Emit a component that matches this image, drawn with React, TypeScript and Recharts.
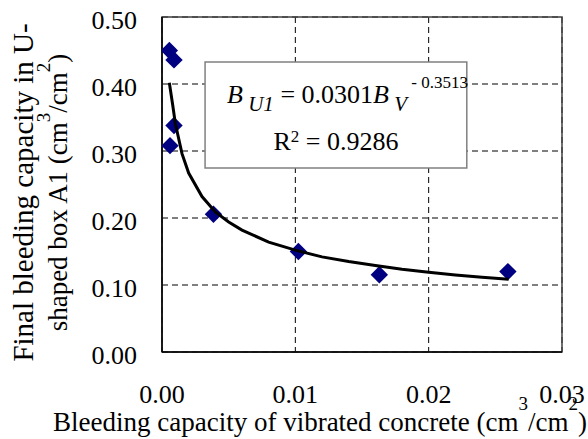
import React from 'react';
import { ScatterChart, Scatter, XAxis, YAxis, CartesianGrid, ReferenceArea } from 'recharts';

const measuredX = [0.00055, 0.0009, 0.0009, 0.0006, 0.00386, 0.01023, 0.0163, 0.02594];
const measuredY = [0.450, 0.436, 0.338, 0.308, 0.2055, 0.150, 0.1154, 0.120];

const trendX = [0.00055, 0.0008, 0.001, 0.0015, 0.002, 0.003, 0.004, 0.005, 0.006, 0.008, 0.010, 0.012, 0.014, 0.016, 0.018, 0.020, 0.022, 0.024, 0.026];
const trendY = [0.402, 0.369, 0.341, 0.296, 0.267, 0.232, 0.209, 0.194, 0.182, 0.164, 0.152, 0.142, 0.135, 0.129, 0.1235, 0.119, 0.115, 0.1116, 0.1085];

const xTicks = [0, 0.01, 0.02, 0.03];
const yTicks = [0, 0.1, 0.2, 0.3, 0.4, 0.5];

const eqBoxX = [0.00323, 0.02286];
const eqBoxY = [0.2746, 0.4328];

const measured = measuredX.map((x, i) => ({ x, y: measuredY[i] }));
const trend = trendX.map((x, i) => ({ x, y: trendY[i] }));

const FONT = 'Liberation Serif';
const fs = { fontFamily: FONT } as React.CSSProperties;

const Diamond = (props: any) => {
  const { cx, cy } = props;
  const r = 8.7;
  return <polygon points={`${cx},${cy - r} ${cx + r},${cy} ${cx},${cy + r} ${cx - r},${cy}`} fill="#000080" />;
};

const NoShape = () => <g />;

const XTitle = (props: any) => {
  const vb = props.viewBox;
  const cx = vb.x + vb.width / 2 - 42;
  const y = vb.y + 79;
  return (
    <text x={cx} y={y} textAnchor="middle" style={fs} fontSize={27} fill="#000">
      <tspan>Bleeding capacity of vibrated concrete (cm</tspan>
      <tspan fontSize={19} dy={-21}>3</tspan>
      <tspan dy={21}>/cm</tspan>
      <tspan fontSize={19} dy={-21}>2</tspan>
      <tspan dy={21}>)</tspan>
    </text>
  );
};

const YTitle = (props: any) => {
  const vb = props.viewBox;
  const cy = vb.y + vb.height / 2 + 8;
  const x1 = vb.x - 69;
  const x2 = vb.x - 35;
  return (
    <g>
      <text x={x1} y={cy} transform={`rotate(-90, ${x1}, ${cy})`} textAnchor="middle" style={fs} fontSize={29} fill="#000">
        Final bleeding capacity in U-
      </text>
      <text x={x2} y={cy} transform={`rotate(-90, ${x2}, ${cy})`} textAnchor="middle" style={fs} fontSize={27} fill="#000">
        <tspan>shaped box A1 (cm</tspan>
        <tspan fontSize={19} dy={-17}>3</tspan>
        <tspan dy={17}>/cm</tspan>
        <tspan fontSize={19} dy={-17}>2</tspan>
        <tspan dy={17}>)</tspan>
      </text>
    </g>
  );
};

const EqLabel = (props: any) => {
  const vb = props.viewBox;
  const x0 = vb.x + 22;
  const y1 = vb.y + 41;
  const y2 = vb.y + 88;
  return (
    <g>
      <text x={x0} y={y1} style={fs} fontSize={26} fill="#000">
        <tspan fontStyle="italic">B</tspan>
        <tspan fontStyle="italic" fontSize={21} dy={8}> U1</tspan>
        <tspan dy={-8}> = 0.0301</tspan>
        <tspan fontStyle="italic">B</tspan>
        <tspan fontStyle="italic" fontSize={21} dy={8}> V</tspan>
        <tspan fontSize={17} dy={-23}> - 0.3513</tspan>
      </text>
      <text x={vb.x + vb.width / 2} y={y2} textAnchor="middle" style={fs} fontSize={26} fill="#000">
        <tspan>R</tspan>
        <tspan fontSize={17} dy={-8}>2</tspan>
        <tspan dy={8}> = 0.9286</tspan>
      </text>
    </g>
  );
};

export default function App() {
  return (
    <div style={{ position: 'absolute', left: 0, top: 0, background: '#fff' }}>
      <ScatterChart width={588} height={439} margin={{ top: 17, right: 26, left: 102, bottom: 27 }}>
        <CartesianGrid stroke="#000" strokeDasharray="6 4" strokeWidth={1} />
        <ReferenceArea x1={0} x2={0.03} y1={0} y2={0.5} fill="none" stroke="#404040" strokeWidth={1.5} ifOverflow="visible" />
        <XAxis
          type="number"
          dataKey="x"
          domain={[0, 0.03]}
          ticks={xTicks}
          allowDataOverflow
          tickFormatter={(v: number) => v.toFixed(2)}
          axisLine={{ stroke: '#000', strokeWidth: 1.5 }}
          tickLine={false}
          tickSize={0}
          tickMargin={33}
          height={60}
          tick={{ fill: '#000', fontSize: 26, style: fs }}
          label={{ content: XTitle }}
        />
        <YAxis
          type="number"
          dataKey="y"
          domain={[0, 0.5]}
          ticks={yTicks}
          allowDataOverflow
          tickFormatter={(v: number) => v.toFixed(2)}
          axisLine={{ stroke: '#000', strokeWidth: 1.5 }}
          tickLine={false}
          tickSize={0}
          tickMargin={25}
          width={60}
          tick={{ fill: '#000', fontSize: 26, style: fs, dy: 3 }}
          label={{ content: YTitle }}
        />
        <Scatter data={measured} shape={Diamond} isAnimationActive={false} />
        <Scatter data={trend} shape={NoShape} line={{ stroke: '#000', strokeWidth: 3 }} lineType="joint" isAnimationActive={false} />
        <ReferenceArea x1={eqBoxX[0]} x2={eqBoxX[1]} y1={eqBoxY[0]} y2={eqBoxY[1]} fill="#fff" fillOpacity={1} stroke="#808080" strokeWidth={1.5} label={{ content: EqLabel }} />
      </ScatterChart>
    </div>
  );
}
